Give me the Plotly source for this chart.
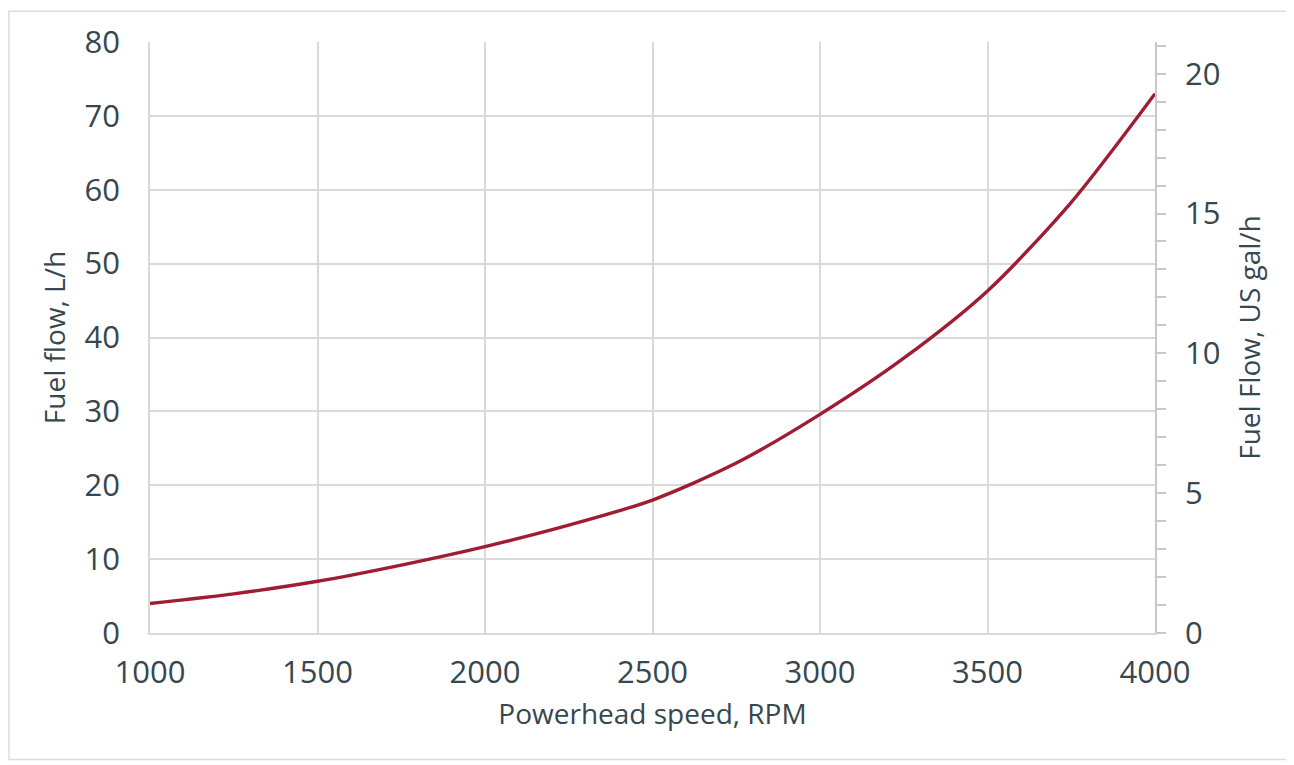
import plotly.graph_objects as go

rpm = [1000, 1250, 1500, 1750, 2000, 2250, 2500, 2750, 3000, 3250, 3500, 3750, 4000]
fuel_lph = [4.0, 5.3, 7.0, 9.2, 11.7, 14.6, 18.0, 23.0, 29.6, 37.2, 46.3, 58.3, 73.0]

x_ticks = [1000, 1500, 2000, 2500, 3000, 3500, 4000]
left_ticks = [0, 10, 20, 30, 40, 50, 60, 70, 80]
right_ticks = [0, 5, 10, 15, 20]
L_PER_GAL = 3.785411784

TXT = "#37474f"
GRID = "#d9d9d9"
FONT = "Open Sans"

fig = go.Figure()
fig.add_trace(go.Scatter(
    x=rpm, y=fuel_lph, mode="lines",
    line=dict(color="#a01c32", width=3.4, shape="spline", smoothing=0.8),
    showlegend=False, hoverinfo="skip",
))
# invisible trace to activate secondary axis
fig.add_trace(go.Scatter(
    x=[rpm[0]], y=[fuel_lph[0] / L_PER_GAL], yaxis="y2", mode="markers",
    marker=dict(opacity=0), showlegend=False, hoverinfo="skip",
))

fig.update_layout(
    width=1294, height=765,
    margin=dict(l=142, r=147, t=32, b=140),
    paper_bgcolor="white", plot_bgcolor="white",
    font=dict(family=FONT, color=TXT, size=28),
    xaxis=dict(
        range=[1000, 4000], tickvals=x_ticks, showgrid=True, gridcolor=GRID, gridwidth=1.5,
        showline=True, linecolor=GRID, linewidth=1.5, mirror=False,
        zeroline=False, ticks="", ticklabelstandoff=11,
        tickfont=dict(size=31, color=TXT),
        title=dict(text="Powerhead speed, RPM", font=dict(size=28, color=TXT), standoff=13),
    ),
    yaxis=dict(
        range=[0, 80], tickvals=left_ticks, showgrid=True, gridcolor=GRID, gridwidth=1.5,
        showline=True, linecolor=GRID, linewidth=1.5, zeroline=False, ticks="",
        ticklabelstandoff=22,
        tickfont=dict(size=31, color=TXT),
        title=dict(text="Fuel flow, L/h", font=dict(size=28, color=TXT), standoff=11),
    ),
    yaxis2=dict(
        overlaying="y", side="right", range=[0, 80 / L_PER_GAL],
        tickvals=right_ticks, showgrid=False, zeroline=False,
        showline=True, linecolor="#c8c8c8", linewidth=1.5,
        ticks="outside", ticklen=9, tickcolor="#c8c8c8", tickwidth=1.5,
        minor=dict(dtick=1, ticks="outside", ticklen=9, tickcolor="#c8c8c8", tickwidth=1.5, showgrid=False),
        ticklabelstandoff=13,
        tickfont=dict(size=31, color=TXT),
        title=dict(text="Fuel Flow, US gal/h", font=dict(size=28, color=TXT), standoff=21),
    ),
    shapes=[dict(
        type="rect", xref="paper", yref="paper",
        x0=-0.1403, x1=1.1333, y0=-0.214, y1=1.052,
        line=dict(color="#dcdcdc", width=1.5), fillcolor="rgba(0,0,0,0)", layer="below",
    )],
)

fig.write_html("out.html")
